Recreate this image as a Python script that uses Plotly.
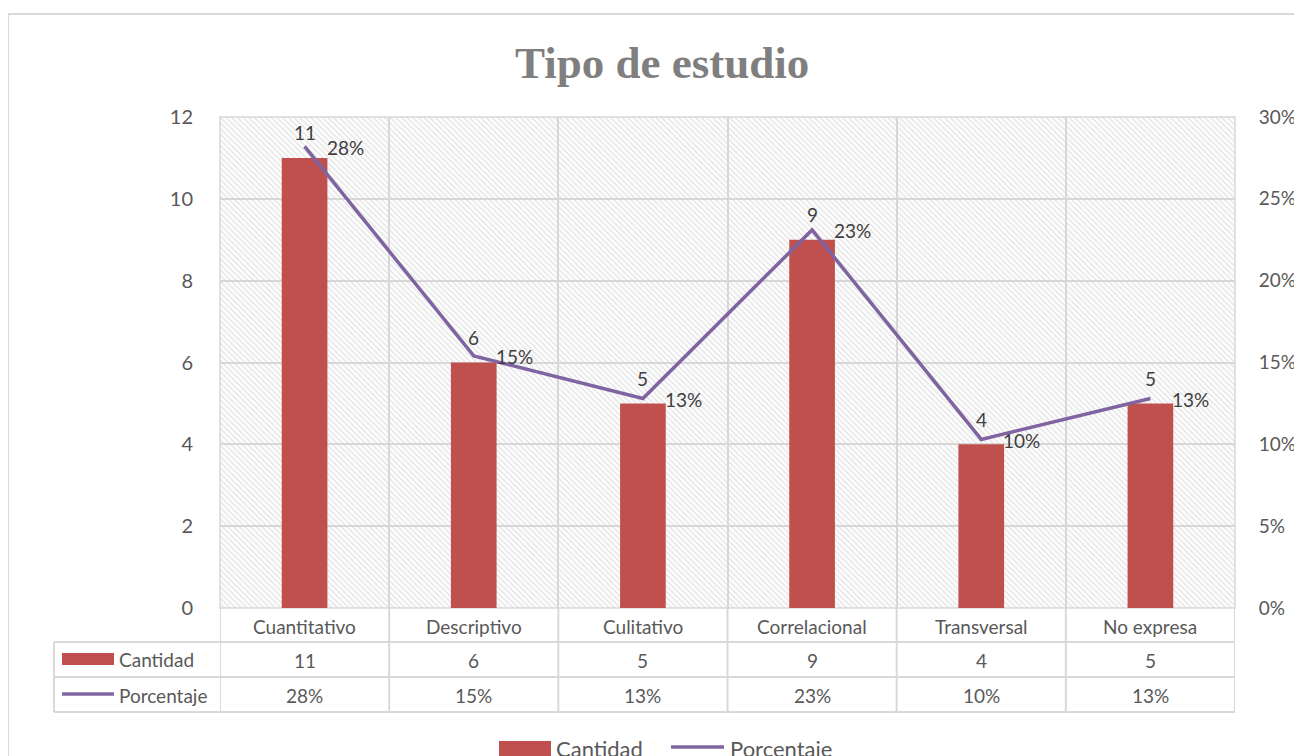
import plotly.graph_objects as go

categorias = ["Cuantitativo", "Descriptivo", "Culitativo", "Correlacional", "Transversal", "No expresa"]
cantidad = [11, 6, 5, 9, 4, 5]
porcentaje = [0.282, 0.154, 0.128, 0.231, 0.103, 0.128]
y_max = 12

# the page body has an 8px margin, so the figure starts at (8, 8)
OFF = 8
W, H = 1302 - OFF, 756 - OFF
L, R, T, B = 220, 1235, 117, 608  # plot area in page pixels
GRID = "#d9d9d9"
TXT = "#595959"
LBL = "#404040"
FONT = "Lato"


def px(x):
    return (x - L) / (R - L)


def py(y):
    return (B - y) / (B - T)


def label(x, y, text, size, xanchor="center", color=TXT, family=FONT):
    return dict(x=x, y=y, xref="paper", yref="paper", text=text, showarrow=False,
                xanchor=xanchor, yanchor="middle", font=dict(size=size, color=color, family=family))


fig = go.Figure()

# hatched plot background
fig.add_trace(go.Bar(x=categorias, y=[y_max] * len(categorias), width=1,
                     marker=dict(color="#d0d0d0", line_width=0,
                                 pattern=dict(shape="\\", size=4, solidity=0.45,
                                              fgcolor="#d0d0d0", bgcolor="rgba(0,0,0,0)")),
                     hoverinfo="skip", showlegend=False))

fig.add_trace(go.Bar(x=categorias, y=cantidad, name="Cantidad", width=0.27,
                     marker=dict(color="#c0504d", line_width=0)))

fig.add_trace(go.Scatter(x=categorias, y=porcentaje, name="Porcentaje", yaxis="y2",
                         mode="lines", line=dict(color="#8064a2", width=3.5)))

shapes = []
ann = []

# data labels
for c, v in zip(categorias, cantidad):
    ann.append(dict(x=c, y=v, xref="x", yref="y", text=str(v), showarrow=False,
                    xanchor="center", yanchor="middle", yshift=25,
                    font=dict(size=19, color=LBL, family=FONT)))
for c, p in zip(categorias, porcentaje):
    ann.append(dict(x=c, y=p, xref="x", yref="y2", text=f"{p:.0%}", showarrow=False,
                    xanchor="left", yanchor="middle", xshift=20, yshift=-1,
                    font=dict(size=19, color=LBL, family=FONT)))

# plot frame
shapes.append(dict(type="rect", xref="paper", yref="paper", x0=0, x1=1, y0=0, y1=1,
                   line=dict(color=GRID, width=1.5), layer="below"))
# outer chart border
shapes.append(dict(type="line", xref="paper", yref="paper", x0=px(8), x1=px(1320),
                   y0=py(14), y1=py(14), line=dict(color=GRID, width=2)))
shapes.append(dict(type="line", xref="paper", yref="paper", x0=px(8), x1=px(8),
                   y0=py(14), y1=py(770), line=dict(color=GRID, width=2)))

# data table
for yy in [642, 677, 712]:
    shapes.append(dict(type="line", xref="paper", yref="paper", x0=px(54), x1=1,
                       y0=py(yy), y1=py(yy), line=dict(color=GRID, width=2)))
shapes.append(dict(type="line", xref="paper", yref="paper", x0=px(54), x1=px(54),
                   y0=py(642), y1=py(712), line=dict(color=GRID, width=2)))
for i in range(len(categorias) + 1):
    shapes.append(dict(type="line", xref="x", yref="paper", x0=i - 0.5, x1=i - 0.5,
                       y0=0, y1=py(712), line=dict(color=GRID, width=2)))

for i, c in enumerate(categorias):
    for yy, t in [(626, c), (660, str(cantidad[i])), (695, f"{porcentaje[i]:.0%}")]:
        ann.append(dict(x=c, xref="x", y=py(yy), yref="paper", text=t, showarrow=False,
                        xanchor="center", yanchor="middle",
                        font=dict(size=19, color=TXT, family=FONT)))

# table legend keys
shapes.append(dict(type="rect", xref="paper", yref="paper", x0=px(62), x1=px(114),
                   y0=py(665), y1=py(653), fillcolor="#c0504d", line_width=0))
ann.append(label(px(117), py(659), "Cantidad", 19, "left"))
shapes.append(dict(type="line", xref="paper", yref="paper", x0=px(62), x1=px(114),
                   y0=py(694), y1=py(694), line=dict(color="#8064a2", width=3.5)))
ann.append(label(px(117), py(695), "Porcentaje", 19, "left"))

# bottom legend (cut by the lower edge, as in the original)
shapes.append(dict(type="rect", xref="paper", yref="paper", x0=px(499), x1=px(551),
                   y0=py(760), y1=py(741), fillcolor="#c0504d", line_width=0))
ann.append(label(px(554), py(748), "Cantidad", 22, "left"))
shapes.append(dict(type="line", xref="paper", yref="paper", x0=px(671), x1=px(724),
                   y0=py(747), y1=py(747), line=dict(color="#8064a2", width=3.5)))
ann.append(label(px(728), py(748), "Porcentaje", 22, "left"))

# title
ann.append(label(px(662), py(63), "<b>Tipo de estudio</b>", 45, color="#7f7f7f",
                 family="Liberation Serif"))

fig.update_layout(
    width=W, height=H,
    margin=dict(l=L - OFF, r=W - (R - OFF), t=T - OFF, b=H - (B - OFF), autoexpand=False),
    paper_bgcolor="white", plot_bgcolor="white",
    barmode="overlay", showlegend=False,
    shapes=shapes, annotations=ann,
    font=dict(family=FONT, color=TXT),
    xaxis=dict(type="category", range=[-0.5, len(categorias) - 0.5], showticklabels=False,
               showgrid=True, gridcolor=GRID, gridwidth=1.5, tickson="boundaries", ticks="",
               automargin=False),
    yaxis=dict(range=[0, y_max], dtick=2, showgrid=True, gridcolor=GRID, gridwidth=1.5,
               zeroline=False, ticks="outside", ticklen=22, tickcolor="rgba(0,0,0,0)",
               tickfont=dict(size=20, color=TXT, family=FONT), automargin=False),
    yaxis2=dict(overlaying="y", side="right", range=[0, 0.30], dtick=0.05, tickformat=".0%",
                showgrid=False, zeroline=False, ticks="outside", ticklen=19,
                tickcolor="rgba(0,0,0,0)", tickfont=dict(size=19, color=TXT, family=FONT),
                automargin=False),
)

fig.write_html("out.html")
